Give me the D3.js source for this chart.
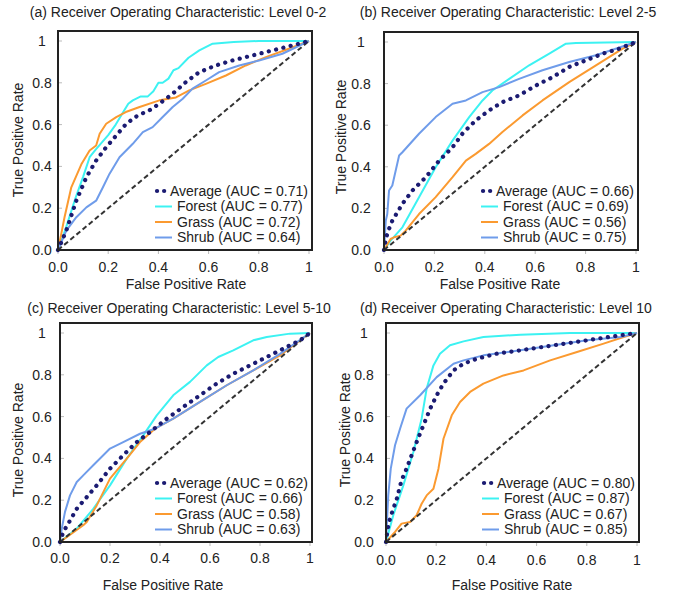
<!DOCTYPE html>
<html>
<head>
<meta charset="utf-8">
<script src="https://cdn.jsdelivr.net/npm/d3@7"></script>
<style>
  body { margin: 0; background: #fff; }
  svg { display: block; font-family: Arial, "Liberation Sans", sans-serif; }
</style>
</head>
<body>
<div id="chart"></div>
<script>
// ---- data (FPR, TPR pairs) ----
var seriesNames = ["Average", "Forest", "Grass", "Shrub"];
var panelTitles = [
  "(a) Receiver Operating Characteristic: Level 0-2",
  "(b) Receiver Operating Characteristic: Level 2-5",
  "(c) Receiver Operating Characteristic: Level 5-10",
  "(d) Receiver Operating Characteristic: Level 10"
];
var aucA = [0.71, 0.77, 0.72, 0.64];
var aucB = [0.66, 0.69, 0.56, 0.75];
var aucC = [0.62, 0.66, 0.58, 0.63];
var aucD = [0.80, 0.87, 0.67, 0.85];
var xTicks = [0, 0.2, 0.4, 0.6, 0.8, 1];
var xTickLabels = ["0.0", "0.2", "0.4", "0.6", "0.8", "1"];
var yTicks = [0, 0.2, 0.4, 0.6, 0.8, 1];
var yTickLabels = ["0.0", "0.2", "0.4", "0.6", "0.8", "1"];

// Level 0-2
var avgA = [[0,0],[0.033,0.093],[0.073,0.236],[0.113,0.348],[0.152,0.428],[0.192,0.492],[0.232,0.548],[0.272,0.604],[0.318,0.644],[0.364,0.668],[0.404,0.70],[0.457,0.748],[0.51,0.804],[0.563,0.851],[0.629,0.883],[0.695,0.907],[0.775,0.931],[0.854,0.955],[0.934,0.979],[1,1]];
var forestA = [[0,0],[0.03,0.10],[0.07,0.25],[0.10,0.35],[0.126,0.444],[0.15,0.48],[0.20,0.55],[0.23,0.60],[0.26,0.66],[0.28,0.70],[0.298,0.716],[0.33,0.735],[0.358,0.735],[0.38,0.76],[0.40,0.80],[0.417,0.80],[0.44,0.82],[0.46,0.86],[0.48,0.87],[0.52,0.92],[0.563,0.955],[0.616,0.987],[0.70,0.995],[0.80,1.0],[1,1]];
var grassA = [[0,0],[0.013,0.077],[0.026,0.157],[0.053,0.30],[0.093,0.41],[0.126,0.476],[0.152,0.50],[0.166,0.556],[0.192,0.604],[0.232,0.636],[0.27,0.66],[0.325,0.684],[0.404,0.716],[0.47,0.73],[0.523,0.764],[0.589,0.795],[0.669,0.835],[0.748,0.883],[0.828,0.923],[0.92,0.963],[1,1]];
var shrubA = [[0,0],[0.033,0.093],[0.073,0.157],[0.113,0.204],[0.152,0.236],[0.179,0.30],[0.205,0.364],[0.245,0.444],[0.298,0.508],[0.338,0.564],[0.377,0.588],[0.417,0.636],[0.457,0.684],[0.497,0.724],[0.536,0.772],[0.589,0.811],[0.642,0.851],[0.722,0.883],[0.801,0.907],[0.894,0.939],[1,1]];

// Level 2-5
var avgB = [[0,0],[0.007,0.053],[0.017,0.093],[0.033,0.141],[0.053,0.181],[0.073,0.222],[0.113,0.286],[0.166,0.35],[0.219,0.43],[0.272,0.494],[0.311,0.559],[0.364,0.623],[0.417,0.671],[0.47,0.711],[0.536,0.743],[0.603,0.791],[0.669,0.831],[0.735,0.88],[0.801,0.912],[0.868,0.944],[0.934,0.968],[1,1]];
var forestB = [[0,0],[0.026,0.045],[0.073,0.109],[0.139,0.254],[0.205,0.398],[0.272,0.526],[0.338,0.639],[0.391,0.719],[0.43,0.767],[0.497,0.823],[0.576,0.888],[0.656,0.944],[0.722,0.992],[0.762,0.995],[1,1]];
var grassB = [[0,0],[0.026,0.053],[0.04,0.061],[0.066,0.069],[0.086,0.093],[0.139,0.173],[0.205,0.254],[0.272,0.35],[0.325,0.43],[0.364,0.462],[0.417,0.51],[0.47,0.567],[0.55,0.647],[0.629,0.719],[0.735,0.807],[0.841,0.888],[0.947,0.968],[1,1]];
var shrubB = [[0,0],[0.004,0.077],[0.007,0.141],[0.013,0.173],[0.02,0.286],[0.033,0.31],[0.06,0.454],[0.073,0.47],[0.139,0.559],[0.205,0.639],[0.272,0.703],[0.325,0.719],[0.391,0.759],[0.457,0.783],[0.536,0.823],[0.629,0.864],[0.735,0.904],[0.841,0.936],[1,1]];

// Level 5-10
var avgC = [[0,0],[0.013,0.048],[0.033,0.088],[0.067,0.159],[0.107,0.215],[0.147,0.271],[0.2,0.351],[0.253,0.415],[0.307,0.478],[0.36,0.526],[0.427,0.59],[0.493,0.646],[0.56,0.702],[0.627,0.758],[0.693,0.805],[0.76,0.845],[0.827,0.885],[0.893,0.925],[0.96,0.965],[1,1]];
var forestC = [[0,0],[0.067,0.064],[0.133,0.159],[0.2,0.271],[0.267,0.399],[0.333,0.51],[0.387,0.606],[0.453,0.702],[0.52,0.766],[0.587,0.845],[0.633,0.885],[0.693,0.917],[0.773,0.965],[0.827,0.981],[0.92,0.997],[1,1]];
var grassC = [[0,0],[0.093,0.08],[0.107,0.096],[0.147,0.175],[0.2,0.303],[0.267,0.399],[0.32,0.478],[0.38,0.542],[0.453,0.59],[0.56,0.67],[0.667,0.75],[0.773,0.821],[0.88,0.893],[1,1]];
var shrubC = [[0,0],[0.007,0.064],[0.02,0.144],[0.04,0.223],[0.067,0.287],[0.093,0.319],[0.133,0.367],[0.2,0.447],[0.253,0.478],[0.32,0.518],[0.38,0.542],[0.453,0.59],[0.56,0.67],[0.667,0.75],[0.773,0.821],[0.88,0.90],[1,1]];

// Level 10
var avgD = [[0,0],[0.007,0.064],[0.016,0.112],[0.029,0.159],[0.043,0.207],[0.062,0.295],[0.082,0.351],[0.102,0.415],[0.122,0.478],[0.149,0.558],[0.176,0.638],[0.202,0.702],[0.229,0.758],[0.269,0.821],[0.309,0.853],[0.362,0.877],[0.441,0.901],[0.535,0.917],[0.668,0.941],[0.801,0.965],[0.934,0.989],[1,1]];
var forestD = [[0,0],[0.029,0.128],[0.069,0.271],[0.109,0.431],[0.142,0.59],[0.162,0.734],[0.189,0.845],[0.215,0.901],[0.255,0.941],[0.309,0.96],[0.388,0.981],[0.535,0.992],[0.734,1],[1,1]];
var grassD = [[0,0],[0.036,0.048],[0.062,0.088],[0.096,0.096],[0.122,0.128],[0.142,0.183],[0.162,0.223],[0.189,0.255],[0.209,0.351],[0.229,0.494],[0.262,0.606],[0.295,0.67],[0.335,0.718],[0.388,0.758],[0.468,0.797],[0.548,0.821],[0.654,0.869],[0.761,0.909],[0.867,0.949],[0.947,0.981],[1,1]];
var shrubD = [[0,0],[0.009,0.223],[0.019,0.351],[0.036,0.463],[0.056,0.542],[0.082,0.638],[0.136,0.702],[0.202,0.789],[0.269,0.853],[0.309,0.869],[0.388,0.893],[0.535,0.917],[0.668,0.941],[0.801,0.965],[0.934,0.981],[1,1]];

// ---- layout ----
var W = 674, H = 597;
var colors = {Average: "#1b1b72", Forest: "#3cf2f2", Grass: "#fb9a30", Shrub: "#6f9cea"};

var panels = [
  {title: panelTitles[0], auc: aucA, series: [avgA, forestA, grassA, shrubA],
   left: 58, right: 312, top: 31, bottom: 250, x1: 309, y1: 41,
   titleX: 178, titleY: 17, yTickX: 42, xTickY: 272, xLabX: 186, xLabY: 289, yLabX: 18, yLabY: 140},
  {title: panelTitles[1], auc: aucB, series: [avgB, forestB, grassB, shrubB],
   left: 384, right: 638, top: 32, bottom: 250, x1: 636, y1: 42,
   titleX: 508, titleY: 17, yTickX: 361, xTickY: 272, xLabX: 500, xLabY: 289, yLabX: 341, yLabY: 137},
  {title: panelTitles[2], auc: aucC, series: [avgC, forestC, grassC, shrubC],
   left: 60, right: 312, top: 323, bottom: 542, x1: 310, y1: 333,
   titleX: 179, titleY: 313, yTickX: 42, xTickY: 563, xLabX: 163, xLabY: 590, yLabX: 18, yLabY: 440},
  {title: panelTitles[3], auc: aucD, series: [avgD, forestD, grassD, shrubD],
   left: 386, right: 639, top: 323, bottom: 542, x1: 637, y1: 333,
   titleX: 506, titleY: 313, yTickX: 364, xTickY: 565, xLabX: 512, xLabY: 590, yLabX: 345, yLabY: 430}
];

var svg = d3.select("#chart").append("svg")
    .attr("width", W)
    .attr("height", H);

panels.forEach(function(p) {
    var x = d3.scaleLinear().domain([0, 1]).range([p.left, p.x1]);
    var y = d3.scaleLinear().domain([0, 1]).range([p.bottom, p.y1]);
    var g = svg.append("g");

    // title
    g.append("text")
        .attr("x", p.titleX).attr("y", p.titleY)
        .attr("text-anchor", "middle")
        .style("font-size", "14px").attr("fill", "#222")
        .text(p.title);

    // small grey tick marks
    g.selectAll(".xt").data(xTicks).enter().append("line")
        .attr("x1", function(d) { return x(d); }).attr("x2", function(d) { return x(d); })
        .attr("y1", p.bottom + 1).attr("y2", p.bottom + 4)
        .attr("stroke", "#bbb").attr("stroke-width", 1);
    g.selectAll(".yt").data(yTicks).enter().append("line")
        .attr("x1", p.left + 1).attr("x2", p.left + 4)
        .attr("y1", function(d) { return y(d); }).attr("y2", function(d) { return y(d); })
        .attr("stroke", "#bbb").attr("stroke-width", 1);

    // tick labels
    g.selectAll(".xl").data(xTicks).enter().append("text")
        .attr("x", function(d) { return x(d); })
        .attr("y", p.xTickY)
        .attr("text-anchor", "middle")
        .style("font-size", "14px").attr("fill", "#222")
        .text(function(d, i) { return xTickLabels[i]; });
    g.selectAll(".yl").data(yTicks).enter().append("text")
        .attr("x", p.yTickX)
        .attr("y", function(d) { return y(d); })
        .attr("dy", "0.35em")
        .attr("text-anchor", "middle")
        .style("font-size", "14px").attr("fill", "#222")
        .text(function(d, i) { return yTickLabels[i]; });

    // axis titles
    g.append("text")
        .attr("x", p.xLabX).attr("y", p.xLabY)
        .attr("text-anchor", "middle")
        .style("font-size", "14px").attr("fill", "#222")
        .text("False Positive Rate");
    g.append("text")
        .attr("transform", "translate(" + p.yLabX + "," + p.yLabY + ") rotate(-90)")
        .attr("dy", "0.35em")
        .attr("text-anchor", "middle")
        .style("font-size", "14px").attr("fill", "#222")
        .text("True Positive Rate");

    var line = d3.line()
        .x(function(d) { return x(d[0]); })
        .y(function(d) { return y(d[1]); });

    // curves: forest, grass, shrub
    [1, 2, 3].forEach(function(k) {
        g.append("path")
            .attr("d", line(p.series[k]))
            .attr("fill", "none")
            .attr("stroke", colors[seriesNames[k]])
            .attr("stroke-width", 2)
            .attr("stroke-linejoin", "round");
    });

    // chance diagonal
    g.append("path")
        .attr("d", line([[0, 0], [1, 1]]))
        .attr("stroke", "#333")
        .attr("stroke-width", 2)
        .attr("stroke-dasharray", "5,3");

    // average (dotted)
    g.append("path")
        .attr("d", line(p.series[0]))
        .attr("fill", "none")
        .attr("stroke", colors.Average)
        .attr("stroke-width", 4.2)
        .attr("stroke-linecap", "round")
        .attr("stroke-dasharray", "0.1,7.4");

    // frame
    g.append("rect")
        .attr("x", p.left).attr("y", p.top)
        .attr("width", p.right - p.left).attr("height", p.bottom - p.top)
        .attr("fill", "none")
        .attr("stroke", "#222")
        .attr("stroke-width", 2);

    // legend
    var rowsY = [p.bottom - 59, p.bottom - 43.5, p.bottom - 28, p.bottom - 12.5];
    seriesNames.forEach(function(name, i) {
        var ly = rowsY[i];
        if (i === 0) {
            g.append("line")
                .attr("x1", p.right - 155).attr("x2", p.right - 147)
                .attr("y1", ly).attr("y2", ly)
                .attr("stroke", colors.Average)
                .attr("stroke-width", 4.2)
                .attr("stroke-linecap", "round")
                .attr("stroke-dasharray", "0.1,7");
        } else {
            g.append("line")
                .attr("x1", p.right - 157).attr("x2", p.right - 140)
                .attr("y1", ly).attr("y2", ly)
                .attr("stroke", colors[name])
                .attr("stroke-width", 2);
        }
        g.append("text")
            .attr("x", i === 0 ? p.right - 142 : p.right - 135)
            .attr("y", ly)
            .attr("dy", "0.35em")
            .style("font-size", "14px").attr("fill", "#222")
            .text(name + " (AUC = " + p.auc[i].toFixed(2) + ")");
    });
});
</script>
</body>
</html>
